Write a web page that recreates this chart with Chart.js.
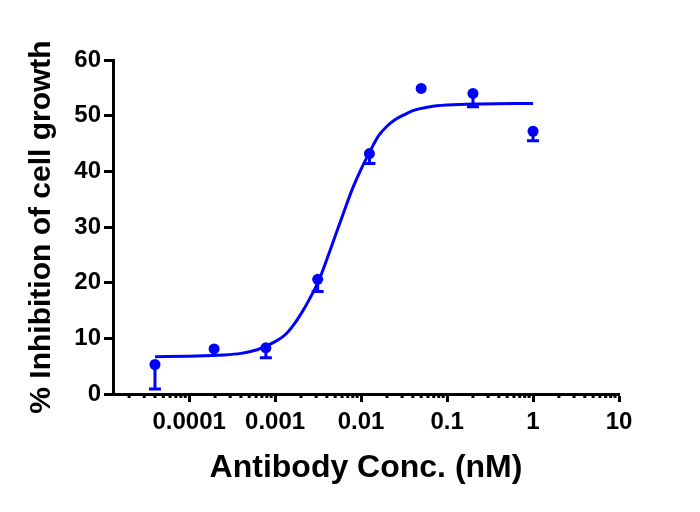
<!DOCTYPE html>
<html>
<head>
<meta charset="utf-8">
<script src="https://cdn.jsdelivr.net/npm/chart.js@4/dist/chart.umd.min.js"></script>
<style>
  html, body { margin: 0; padding: 0; background: #fff; }
  #wrap { width: 700px; height: 512px; }
</style>
</head>
<body>
<div id="wrap"><canvas id="doseChart"></canvas></div>
<script>
// measured points
const conc = [0.00004, 0.000195, 0.00078, 0.003125, 0.0125, 0.05, 0.2, 1];
const inhibition = [5.3, 8.1, 8.3, 20.6, 43.2, 54.9, 54.0, 47.2];
const errLow = [4.4, 0, 1.8, 2.2, 1.8, 0, 2.4, 1.7];

// fitted curve
const curveX = [0.00004, 0.0001, 0.00025, 0.0004, 0.00063, 0.001, 0.0013, 0.0016, 0.002, 0.0025, 0.0032, 0.004, 0.005,
    0.0063, 0.0079, 0.01, 0.0126, 0.016, 0.02, 0.025, 0.032, 0.04, 0.063, 0.1, 0.25, 1];
const curveY = [6.7, 6.8, 7.0, 7.3, 8.0, 9.4, 10.6, 12.2, 14.4, 17.0, 20.3, 24.2, 28.4,
    32.7, 36.8, 40.4, 43.5, 46.4, 48.1, 49.3, 50.2, 50.9, 51.6, 51.9, 52.1, 52.2];

const xTickValues = [0.0001, 0.001, 0.01, 0.1, 1, 10];
const xTickLabels = ['0.0001', '0.001', '0.01', '0.1', '1', '10'];

const blue = '#0000FF';
const fontFamily = '"Liberation Sans", Arial, sans-serif';

const errorBars = {
    id: 'errorBars',
    afterDatasetsDraw(chart) {
        const ctx = chart.ctx;
        const xs = chart.scales.x;
        const ys = chart.scales.y;
        ctx.save();
        ctx.strokeStyle = blue;
        ctx.lineWidth = 3;
        conc.forEach((c, i) => {
            if (!errLow[i]) return;
            const px = xs.getPixelForValue(c);
            const top = ys.getPixelForValue(inhibition[i]);
            const bot = ys.getPixelForValue(inhibition[i] - errLow[i]);
            ctx.beginPath();
            ctx.moveTo(px, top);
            ctx.lineTo(px, bot);
            ctx.moveTo(px - 6, bot);
            ctx.lineTo(px + 6, bot);
            ctx.stroke();
        });
        ctx.restore();
    }
};

// short minor ticks on the log axis
const minorTicks = {
    id: 'minorTicks',
    afterDraw(chart) {
        const ctx = chart.ctx;
        const xs = chart.scales.x;
        const y0 = chart.chartArea.bottom;
        ctx.save();
        ctx.strokeStyle = '#000';
        ctx.lineWidth = 3;
        for (let e = -5; e <= 0; e++) {
            for (let k = 2; k <= 9; k++) {
                const v = k * Math.pow(10, e);
                if (v < xs.min || v > xs.max) continue;
                const px = xs.getPixelForValue(v);
                ctx.beginPath();
                ctx.moveTo(px, y0);
                ctx.lineTo(px, y0 + 4);
                ctx.stroke();
            }
        }
        ctx.restore();
    }
};

const ctx = document.getElementById('doseChart').getContext('2d');
const myChart = new Chart(ctx, {
    type: 'scatter',
    data: {
        datasets: [
            {
                label: 'fit',
                data: curveX.map((x, i) => ({ x: x, y: curveY[i] })),
                showLine: true,
                borderColor: blue,
                borderWidth: 3,
                pointRadius: 0,
                cubicInterpolationMode: 'monotone'
            },
            {
                label: 'data',
                data: conc.map((x, i) => ({ x: x, y: inhibition[i] })),
                showLine: false,
                backgroundColor: blue,
                borderColor: blue,
                pointRadius: 5.5,
                borderWidth: 0
            }
        ]
    },
    options: {
        responsive: true,
        maintainAspectRatio: false,
        animation: false,
        layout: { padding: { top: 60, right: 81, left: 0, bottom: 0 } },
        plugins: {
            legend: { display: false },
            tooltip: { enabled: false }
        },
        scales: {
            x: {
                type: 'logarithmic',
                min: 0.000013,
                max: 10,
                afterBuildTicks: axis => {
                    axis.ticks = xTickValues.map(v => ({ value: v }));
                },
                afterFit: axis => { axis.height = 118; },
                ticks: {
                    autoSkip: false,
                    maxRotation: 0,
                    padding: 6,
                    color: '#000',
                    font: { family: fontFamily, size: 24, weight: 'bold' },
                    callback: (v, i) => xTickLabels[i]
                },
                grid: {
                    drawOnChartArea: false,
                    tickLength: 8,
                    tickWidth: 3,
                    tickColor: '#000'
                },
                border: { color: '#000', width: 3 },
                title: {
                    display: true,
                    text: 'Antibody Conc. (nM)',
                    color: '#000',
                    font: { family: fontFamily, size: 32, weight: 'bold' },
                    padding: { top: 0, bottom: 25 }
                }
            },
            y: {
                min: 0,
                max: 60,
                afterFit: axis => { axis.width = 113; },
                ticks: {
                    stepSize: 10,
                    padding: 3,
                    color: '#000',
                    font: { family: fontFamily, size: 24, weight: 'bold' }
                },
                grid: {
                    drawOnChartArea: false,
                    tickLength: 9,
                    tickWidth: 3,
                    tickColor: '#000'
                },
                border: { color: '#000', width: 3 },
                title: {
                    display: true,
                    text: '% Inhibition of cell growth',
                    color: '#000',
                    font: { family: fontFamily, size: 30, weight: 'bold' },
                    padding: { top: 24, bottom: 0 }
                }
            }
        }
    },
    plugins: [errorBars, minorTicks]
});
</script>
</body>
</html>
